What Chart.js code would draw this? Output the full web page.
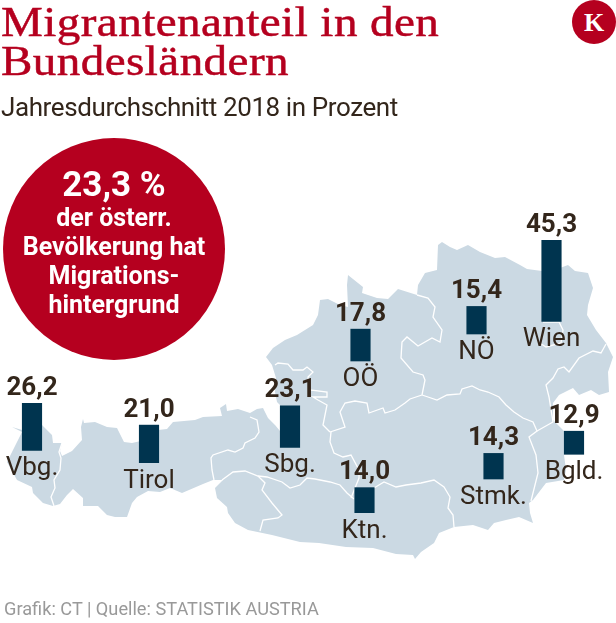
<!DOCTYPE html>
<html lang="de">
<head>
<meta charset="utf-8">
<title>Migrantenanteil in den Bundesländern</title>
<script src="https://cdn.jsdelivr.net/npm/chart.js@4"></script>
<style>
    html, body { margin: 0; padding: 0; background: #fff; }
    #wrap { position: relative; width: 616px; height: 623px; overflow: hidden; font-family: Roboto, sans-serif; color: #33261b; }
    #mapChart { position: absolute; left: 0; top: 0; }
    #title { position: absolute; left: 1px; top: 3px; font-family: "Liberation Serif", serif; font-size: 42px; letter-spacing: 0.4px; line-height: 39px; color: #b5001f; -webkit-text-stroke: 0.5px #b5001f; white-space: nowrap; transform: scaleX(1.12); transform-origin: left top; }
    #subtitle { position: absolute; left: 1px; top: 93px; font-size: 26px; letter-spacing: -0.4px; line-height: 29px; white-space: nowrap; }
    #source { position: absolute; left: 4px; top: 599px; font-size: 18.2px; line-height: 20px; color: #999; white-space: nowrap; }
    #logo { position: absolute; left: 572px; top: 0; width: 44px; height: 44px; border-radius: 50%; background: #b5001f; color: #fff; font-family: "Liberation Serif", serif; font-weight: bold; font-size: 26px; line-height: 45px; text-align: center; }
    #circle { position: absolute; left: 3px; top: 138px; width: 222px; height: 222px; border-radius: 50%; background: #b5001f; color: #fff; text-align: center; font-weight: bold; font-size: 25px; line-height: 29px; }
    #circle .big { font-size: 35px; line-height: 40px; margin-top: 27px; margin-bottom: -2px; }
</style>
</head>
<body>
<div id="wrap">
    <canvas id="mapChart" width="616" height="623"></canvas>
    <div id="title">Migrantenanteil in den<br>Bundesländern</div>
    <div id="subtitle">Jahresdurchschnitt 2018 in Prozent</div>
    <div id="logo">K</div>
    <div id="circle">
        <div class="big">23,3 %</div>
        der österr.<br>Bevölkerung hat<br>Migrations-<br>hintergrund
    </div>
    <div id="source">Grafik: CT | Quelle: STATISTIK AUSTRIA</div>
</div>
<script>
const regions = ['Vbg.', 'Tirol', 'Sbg.', 'OÖ', 'NÖ', 'Wien', 'Stmk.', 'Ktn.', 'Bgld.'];
const shares = [26.2, 21.0, 23.1, 17.8, 15.4, 45.3, 14.3, 14.0, 12.9];
const valueLabels = ['26,2', '21,0', '23,1', '17,8', '15,4', '45,3', '14,3', '14,0', '12,9'];

// where each bar stands on the map
const barX = [32, 149, 290, 360.5, 476.5, 551.5, 493.5, 364.5, 574];
const barFoot = [450.3, 462.7, 447.3, 361, 334, 321.3, 479, 512.7, 454.3];
const pxPerPercent = 1.79;

// map of Austria, traced in page pixels
const outline = [
    [12,427],[22,430],[42,425],[52,435],[53,443],[62,443],[60,451],[62,456],[72,451],[82,440],[81,427],[83,419],[84,423],
    [95,422],[107,427],[117,428],[124,442],[132,443],[145,440],[158,430],[167,429],[173,422],[195,420],[203,417],[222,416],
    [220,408],[226,404],[227,411],[238,409],[250,413],[257,409],[263,408],[268,418],[275,425],[280,431],[280,405],[277,402],
    [275,392],[276,378],[272,365],[266,357],[273,348],[285,340],[297,335],[313,325],[318,315],[320,300],[328,299],[340,305],
    [348,307],[347,285],[348,275],[363,287],[362,293],[377,298],[388,299],[398,289],[417,295],[418,285],[425,273],[437,270],
    [438,245],[442,242],[450,247],[457,250],[468,245],[480,252],[495,258],[505,257],[520,265],[527,269],[542,271],[560,268],
    [568,265],[575,271],[588,273],[593,288],[588,305],[587,315],[596,330],[606,343],[613,357],[608,372],[609,392],[599,395],
    [591,390],[579,395],[573,388],[559,395],[553,403],[553,420],[564,431],[564,455],[566,470],[564,480],[552,482],[546,483],
    [533,500],[529,503],[530,513],[533,523],[519,517],[506,520],[494,523],[488,530],[473,525],[454,527],[439,533],[434,543],
    [421,552],[415,559],[413,555],[396,554],[373,548],[346,547],[319,543],[300,542],[272,535],[248,530],[235,523],[228,513],
    [227,507],[217,498],[215,488],[223,480],[213,480],[203,484],[182,493],[170,488],[160,492],[148,491],[137,497],[132,503],
    [127,517],[115,517],[107,515],[98,506],[83,506],[83,498],[73,489],[67,495],[60,504],[53,506],[43,503],[33,493],[32,487],
    [17,480],[7,462],[13,450],[17,442],[22,432],[12,427]
];
const borders = [
    [[62,443],[59,452],[61,458],[60,470],[54,480],[55,488],[51,497],[54,506]],
    [[250,417],[257,420],[259,432],[255,438],[245,443],[243,448],[235,452],[228,450],[213,455],[211,458],[212,470],[214,480]],
    [[222,480],[233,472],[245,471],[258,476],[267,477],[282,482],[290,488],[300,485],[307,478],[315,479],[330,482],[340,485],[347,493],[354,499]],
    [[374,488],[384,482],[396,487],[406,485],[421,483],[434,480],[444,487],[450,497],[448,508],[453,515],[454,527]],
    [[331,432],[330,442],[334,453],[343,457],[351,455],[359,470],[359,478],[351,498]],
    [[258,476],[265,483],[262,490],[272,503],[282,515],[278,518],[263,520],[260,531]],
    [[275,365],[278,363],[288,364],[293,370],[303,370],[307,367],[313,372],[308,377],[310,390],[327,392],[327,397],[313,397],[318,400],[327,405],[323,425],[330,432]],
    [[330,432],[345,427],[340,412],[345,403],[355,401],[367,403],[369,413],[383,408],[385,413],[395,410],[405,403],[410,399],[422,395]],
    [[422,395],[428,397],[437,400],[447,395],[460,394],[462,389],[472,386],[480,390],[488,392],[499,397],[506,405],[514,412],[523,418],[533,422],[537,431],[529,437],[536,455],[538,473],[531,501]],
    [[537,431],[553,422],[549,397],[546,385],[553,378],[558,369],[564,367],[569,372],[579,358],[593,351],[601,353],[606,344]],
    [[417,295],[428,298],[435,307],[433,317],[442,330],[440,342],[432,338],[418,346],[407,337],[402,342],[401,358],[413,372],[423,375],[425,380],[422,395]],
    [[543,322],[559,322],[563,330],[561,343],[546,347],[538,342]]
];

const toPoints = line => line.map(p => ({ x: p[0], y: p[1] }));

const mapDatasets = [{
    type: 'line',
    data: toPoints(outline),
    borderWidth: 0,
    borderColor: '#cbd9e3',
    backgroundColor: '#cbd9e3',
    fill: 'shape',
    pointRadius: 0,
    order: 3
}];
borders.forEach(line => {
    mapDatasets.push({
        type: 'line',
        data: toPoints(line),
        borderWidth: 1.3,
        borderColor: '#ffffff',
        fill: false,
        pointRadius: 0,
        order: 2
    });
});

const barData = regions.map((r, i) => ({
    x: barX[i],
    y: [barFoot[i], barFoot[i] - shares[i] * pxPerPercent]
}));

// value above the bar, region name below it
const barLabels = {
    id: 'barLabels',
    afterDatasetsDraw(chart) {
        const c = chart.ctx;
        const xs = chart.scales.x;
        const ys = chart.scales.y;
        c.save();
        c.textAlign = 'center';
        c.textBaseline = 'alphabetic';
        c.fillStyle = '#33261b';
        regions.forEach((r, i) => {
            const px = xs.getPixelForValue(barX[i]);
            c.font = 'bold 26px Roboto';
            c.fillText(valueLabels[i], px, ys.getPixelForValue(barData[i].y[1]) - 8.5);
            c.font = '26px Roboto';
            c.fillText(r, px, ys.getPixelForValue(barData[i].y[0]) + 25);
        });
        c.restore();
    }
};

new Chart(document.getElementById('mapChart').getContext('2d'), {
    type: 'bar',
    data: {
        datasets: [{
            type: 'bar',
            data: barData,
            backgroundColor: '#00344f',
            barThickness: 19.5,
            order: 1
        }, ...mapDatasets]
    },
    options: {
        responsive: false,
        animation: false,
        layout: { padding: 0 },
        plugins: { legend: { display: false }, tooltip: { enabled: false } },
        scales: {
            x: { type: 'linear', display: false, offset: false, min: 0, max: 616 },
            y: { type: 'linear', display: false, min: 0, max: 623, reverse: true }
        }
    },
    plugins: [barLabels]
});
</script>
</body>
</html>
